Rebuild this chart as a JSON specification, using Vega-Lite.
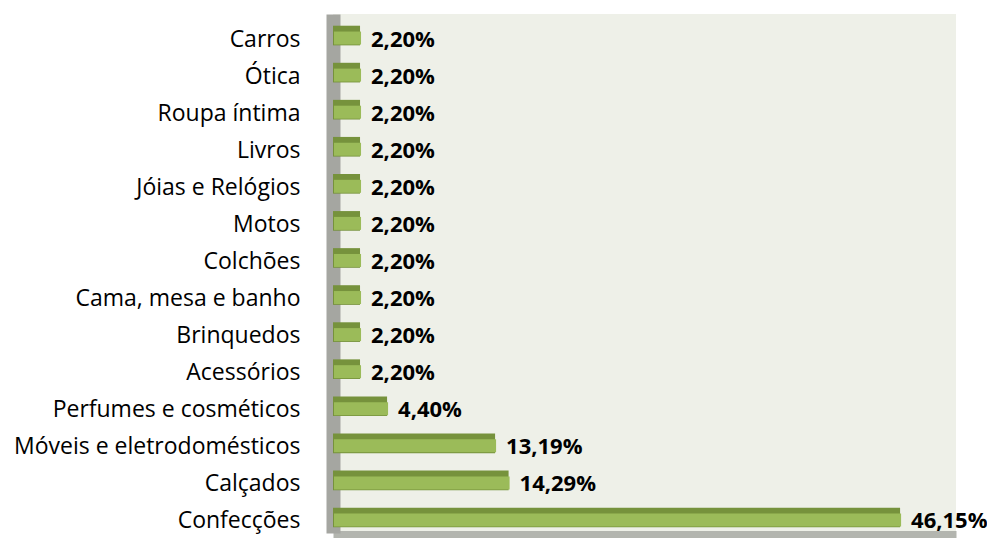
{
  "$schema": "https://vega.github.io/schema/vega-lite/v6.json",
  "width": 623,
  "height": 519,
  "autosize": {"type": "none"},
  "padding": {"left": 333, "top": 14, "right": 31, "bottom": 5},
  "background": "white",
  "view": {"fill": "#EEF0E8", "stroke": null},
  "config": {"font": "Open Sans"},
  "data": {
    "values": [
      {"categoria": "Carros", "valor": 2.20, "rotulo": "2,20%"},
      {"categoria": "Ótica", "valor": 2.20, "rotulo": "2,20%"},
      {"categoria": "Roupa íntima", "valor": 2.20, "rotulo": "2,20%"},
      {"categoria": "Livros", "valor": 2.20, "rotulo": "2,20%"},
      {"categoria": "Jóias e Relógios", "valor": 2.20, "rotulo": "2,20%"},
      {"categoria": "Motos", "valor": 2.20, "rotulo": "2,20%"},
      {"categoria": "Colchões", "valor": 2.20, "rotulo": "2,20%"},
      {"categoria": "Cama, mesa e banho", "valor": 2.20, "rotulo": "2,20%"},
      {"categoria": "Brinquedos", "valor": 2.20, "rotulo": "2,20%"},
      {"categoria": "Acessórios", "valor": 2.20, "rotulo": "2,20%"},
      {"categoria": "Perfumes e cosméticos", "valor": 4.40, "rotulo": "4,40%"},
      {"categoria": "Móveis e eletrodomésticos", "valor": 13.19, "rotulo": "13,19%"},
      {"categoria": "Calçados", "valor": 14.29, "rotulo": "14,29%"},
      {"categoria": "Confecções", "valor": 46.15, "rotulo": "46,15%"}
    ]
  },
  "encoding": {
    "y": {
      "field": "categoria",
      "type": "nominal",
      "sort": null,
      "scale": {"paddingInner": 0.47, "paddingOuter": 0.235},
      "axis": {
        "title": null,
        "ticks": false,
        "labelPadding": 33,
        "labelOffset": 7,
        "labelLimit": 0,
        "labelFont": "Open Sans",
        "labelFontSize": 23,
        "labelColor": "#000000",
        "domainColor": "#A5A6A1",
        "domainWidth": 14,
        "zindex": 0
      }
    },
    "x": {
      "field": "valor",
      "type": "quantitative",
      "scale": {"domain": [0, 50.7], "nice": false},
      "axis": {
        "title": null,
        "labels": false,
        "ticks": false,
        "grid": false,
        "domainColor": "#B3B5AF",
        "domainWidth": 7,
        "offset": 1,
        "zindex": 0
      }
    }
  },
  "layer": [
    {
      "mark": {"type": "bar", "fill": "#76923C", "yOffset": 3, "x2Offset": 1}
    },
    {
      "mark": {"type": "bar", "fill": "#9BBB59", "height": 13, "yOffset": 5.5, "x2Offset": -4, "xOffset": 1}
    },
    {
      "mark": {"type": "text", "align": "left", "baseline": "middle", "dx": 11, "dy": 7, "font": "Open Sans", "fontSize": 22, "fontWeight": "bold", "color": "#000000"},
      "encoding": {"text": {"field": "rotulo", "type": "nominal"}}
    }
  ]
}
